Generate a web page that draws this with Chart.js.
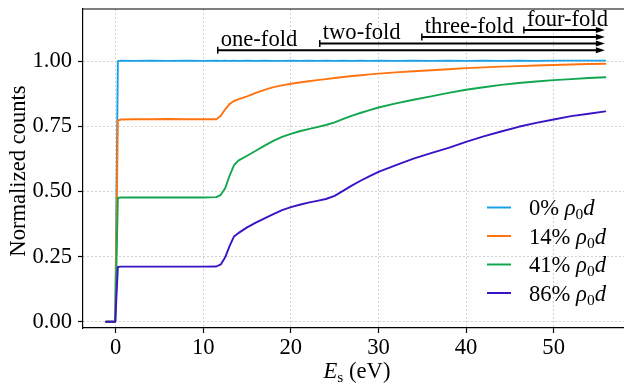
<!DOCTYPE html>
<html><head><meta charset="utf-8">
<script src="https://cdn.jsdelivr.net/npm/chart.js@4"></script>
<style>html,body{margin:0;padding:0;overflow:hidden;background:#fff;width:624px;height:386px}canvas{display:block}</style>
</head><body><canvas id="c" width="624" height="386"></canvas>
<script>
// ---- data ----
const energy = [-1.1,-0.05,0.25,0.6,2,4,6,8,10,11.5,12,12.5,13,13.5,14,15,16,17,18,19,20,21,22,23,24,25,26,27,28,29,30,32,34,36,38,40,42,44,46,48,50,52,54,55.9];
const pct0  = [0,0,1.0,1.002,1.001,1.002,1.001,1.002,1.001,1.002,1.001,1.002,1.001,1.002,1.001,1.002,1.001,1.002,1.001,1.001,1.002,1.001,1.002,1.001,1.002,1.001,1.002,1.001,1.002,1.001,1.002,1.001,1.002,1.001,1.002,1.001,1.002,1.001,1.002,1.001,1.002,1.002,1.002,1.002];
const pct14 = [0,0,0.772,0.776,0.777,0.777,0.778,0.777,0.777,0.777,0.79,0.815,0.835,0.847,0.853,0.865,0.878,0.89,0.9,0.907,0.913,0.918,0.923,0.927,0.931,0.935,0.939,0.943,0.946,0.949,0.952,0.957,0.961,0.965,0.969,0.973,0.976,0.979,0.981,0.983,0.985,0.987,0.989,0.99];
const pct41 = [0,0,0.475,0.477,0.477,0.477,0.477,0.477,0.477,0.478,0.487,0.512,0.56,0.6,0.618,0.637,0.656,0.676,0.694,0.709,0.721,0.731,0.739,0.747,0.755,0.765,0.778,0.791,0.802,0.812,0.822,0.838,0.852,0.865,0.878,0.89,0.9,0.909,0.916,0.922,0.927,0.931,0.935,0.938];
const pct86 = [0,0,0.21,0.2115,0.2115,0.2115,0.2115,0.2115,0.2115,0.212,0.22,0.247,0.29,0.327,0.34,0.362,0.38,0.397,0.413,0.428,0.44,0.449,0.457,0.464,0.471,0.483,0.503,0.523,0.542,0.559,0.575,0.601,0.626,0.647,0.667,0.69,0.711,0.73,0.748,0.763,0.776,0.789,0.798,0.807];
const seriesNames = ['0%','14%','41%','86%'];
const xTicks = [0,10,20,30,40,50];
const yTicks = [0,0.25,0.5,0.75,1.0];
const foldLabels = ['one-fold','two-fold','three-fold','four-fold'];
const foldStart = [11.65,23.3,34.95,46.6];
const foldLevel = [1.042,1.068,1.093,1.119];
const foldEnd = 55.85;

const colors = ['#1AA0E6','#FF7410','#12A64F','#3A14C4'];
const FONT = '"Liberation Serif","Times New Roman",serif';
const FS = 22.6;
const allSeries = [pct0,pct14,pct41,pct86];

const datasets = allSeries.map((vals,i)=>({
  label: seriesNames[i],
  data: energy.map((e,k)=>({x:e,y:vals[k]})),
  borderColor: colors[i], backgroundColor: colors[i],
  borderWidth: 1.9, pointRadius: 0, fill:false, tension:0,
  order: 3-i
}));

function drawMathLabel(ctx, x, y, pct){
  ctx.textAlign='left'; ctx.textBaseline='alphabetic'; ctx.fillStyle='#000';
  ctx.font = FS+'px '+FONT; ctx.fillText(pct+' ', x, y); x += ctx.measureText(pct+' ').width;
  ctx.font = 'italic '+FS+'px '+FONT; ctx.fillText('ρ', x, y); x += ctx.measureText('ρ').width;
  ctx.font = '15.5px '+FONT; ctx.fillText('0', x, y+4); x += ctx.measureText('0').width;
  ctx.font = 'italic '+FS+'px '+FONT; ctx.fillText('d', x, y);
}

const overlay = {
  id:'overlay',
  afterDraw(chart){
    const ctx = chart.ctx, a = chart.chartArea, xs = chart.scales.x, ys = chart.scales.y;
    ctx.save();
    // top spine
    ctx.strokeStyle='#000'; ctx.lineWidth=1.2;
    ctx.beginPath(); ctx.moveTo(a.left, a.top); ctx.lineTo(chart.width, a.top); ctx.stroke();
    // fold arrows
    const xe = xs.getPixelForValue(foldEnd);
    foldStart.forEach((s,i)=>{
      const x0 = xs.getPixelForValue(s), y = ys.getPixelForValue(foldLevel[i]);
      ctx.strokeStyle='#000'; ctx.fillStyle='#000'; ctx.lineWidth=2;
      ctx.beginPath(); ctx.moveTo(x0,y); ctx.lineTo(xe-7,y); ctx.stroke();
      ctx.lineWidth=1.5;
      ctx.beginPath(); ctx.moveTo(x0,y-3.5); ctx.lineTo(x0,y+3.5); ctx.stroke();
      ctx.beginPath(); ctx.moveTo(xe,y); ctx.lineTo(xe-9,y-3); ctx.lineTo(xe-9,y+3); ctx.closePath(); ctx.fill();
      ctx.font=FS+'px '+FONT; ctx.textAlign='left'; ctx.textBaseline='alphabetic';
      ctx.fillText(foldLabels[i], x0+3, y-4);
    });
    // legend
    const lx0=487, lx1=511, tx=529, ly=[207.5,236,264.5,293];
    seriesNames.forEach((n,i)=>{
      ctx.strokeStyle=colors[i]; ctx.lineWidth=2;
      ctx.beginPath(); ctx.moveTo(lx0,ly[i]); ctx.lineTo(lx1,ly[i]); ctx.stroke();
      drawMathLabel(ctx, tx, ly[i]+7.5, n);
    });
    // y title
    ctx.save(); ctx.translate(24.5,171); ctx.rotate(-Math.PI/2);
    ctx.font=FS+'px '+FONT; ctx.textAlign='center'; ctx.textBaseline='alphabetic'; ctx.fillStyle='#000';
    ctx.fillText('Normalized counts',0,0); ctx.restore();
    // x title
    ctx.font='italic '+FS+'px '+FONT; const wE=ctx.measureText('E').width;
    ctx.font='15.5px '+FONT; const wS=ctx.measureText('s').width;
    ctx.font=FS+'px '+FONT; const wR=ctx.measureText(' (eV)').width;
    let x = 357 - (wE+wS+wR)/2; const by=378;
    ctx.textAlign='left'; ctx.fillStyle='#000';
    ctx.font='italic '+FS+'px '+FONT; ctx.fillText('E',x,by); x+=wE;
    ctx.font='15.5px '+FONT; ctx.fillText('s',x,by+4); x+=wS;
    ctx.font=FS+'px '+FONT; ctx.fillText(' (eV)',x,by);
    ctx.restore();
  }
};

new Chart(document.getElementById('c'), {
  type:'line',
  data:{datasets},
  plugins:[overlay],
  options:{
    responsive:false, animation:false, devicePixelRatio:1,
    layout:{padding:{top:9,right:0,left:0,bottom:0}},
    plugins:{legend:{display:false}, tooltip:{enabled:false}},
    elements:{line:{borderCapStyle:'round',borderJoinStyle:'round'}},
    scales:{
      x:{type:'linear', min:-3.73, max:58.03,
        afterBuildTicks(s){ s.ticks = xTicks.map(v=>({value:v})); },
        afterFit(s){ s.height=58; s.paddingLeft=0; s.paddingRight=0; },
        grid:{color:'#c4c4c4', lineWidth:1, tickColor:'#000', tickLength:5, tickWidth:1.2},
        border:{color:'#000', width:1.2, dash:[1.5,2.5]},
        ticks:{font:{family:FONT,size:FS}, color:'#000', padding:2, maxRotation:0, autoSkip:false,
          callback:v=>String(v)}
      },
      y:{type:'linear', min:-0.024, max:1.2,
        afterBuildTicks(s){ s.ticks = yTicks.map(v=>({value:v})); },
        afterFit(s){ s.width=83; s.paddingTop=0; s.paddingBottom=0; },
        grid:{color:'#c4c4c4', lineWidth:1, tickColor:'#000', tickLength:5, tickWidth:1.2},
        border:{color:'#000', width:1.2, dash:[1.5,2.5]},
        ticks:{font:{family:FONT,size:FS}, color:'#000', padding:6, autoSkip:false,
          callback:v=>v.toFixed(2)}
      }
    }
  }
});
</script></body></html>
